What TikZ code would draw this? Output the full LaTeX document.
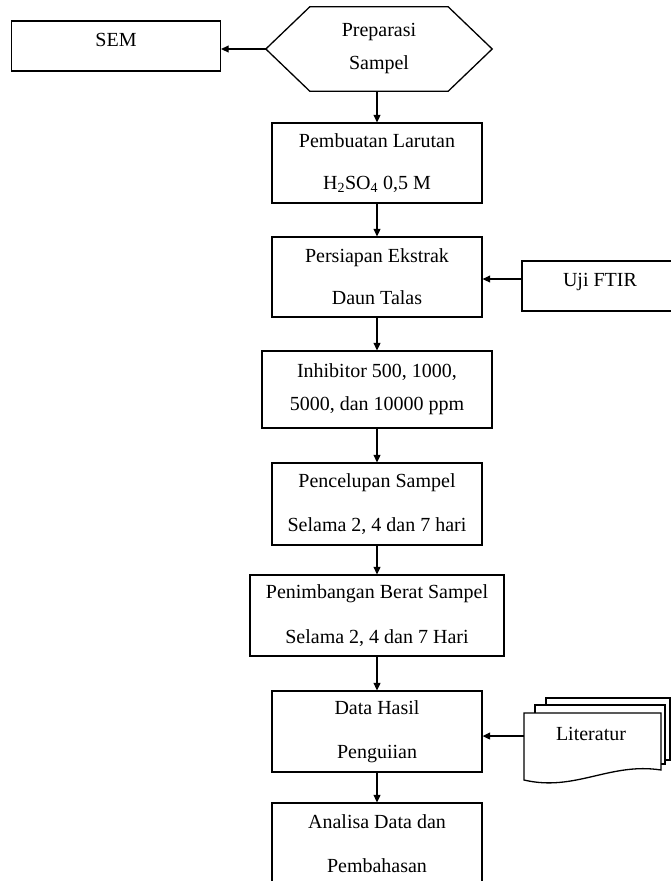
\documentclass[tikz,border=0pt]{standalone}
\usepackage{fontspec}
\setmainfont{Liberation Serif}
\usetikzlibrary{arrows.meta}
\tikzset{
  box/.style={draw, line width=1.3pt, inner sep=0pt, align=center, fill=white},
  arr/.style={-{Triangle[length=7.5pt,width=7pt]}, line width=1.3pt},
  sheet/.style={draw, line width=1.3pt, fill=white},
  f42/.style={font=\fontsize{20}{42}\selectfont},
  f33/.style={font=\fontsize{20}{33}\selectfont},
  f44/.style={font=\fontsize{20}{44.5}\selectfont},
}
\begin{document}
\begin{tikzpicture}[x=1pt,y=-1pt]
\useasboundingbox (0,0) rectangle (671,881);
\clip (0,0) rectangle (671,881);
\fill[white] (0,0) rectangle (671,881);

% hexagon
\node[f33, align=center, minimum width=226pt, minimum height=84pt, inner sep=0pt] (prep) at (379,49) {Preparasi\\Sampel};
\draw[line width=1.3pt] (prep.west) -- ([xshift=44pt]prep.north west) -- ([xshift=-44pt]prep.north east) -- (prep.east) -- ([xshift=-44pt]prep.south east) -- ([xshift=44pt]prep.south west) -- cycle;

\node[box, f42, minimum width=209pt, minimum height=50pt] (sem) at (116,46) {\raisebox{12pt}{SEM}};

\node[box, f42, minimum width=210pt, minimum height=80pt] (b1) at (377,163) {Pembuatan Larutan\\H\textsubscript{2}SO\textsubscript{4} 0,5 M};
\node[box, f42, minimum width=210pt, minimum height=80pt] (b2) at (377,277) {Persiapan Ekstrak\\Daun Talas};
\node[box, f42, minimum width=156pt, minimum height=50pt] (uji) at (600,286) {\raisebox{12pt}{Uji FTIR}};
\node[box, f33, minimum width=230pt, minimum height=77pt] (b3) at (377,389.5) {Inhibitor 500, 1000,\\5000, dan 10000 ppm};
\node[box, f44, minimum width=210pt, minimum height=82pt] (b4) at (377,504) {Pencelupan Sampel\\Selama 2, 4 dan 7 hari};
\node[box, f44, minimum width=254pt, minimum height=81pt] (b5) at (377,615.5) {Penimbangan Berat Sampel\\Selama 2, 4 dan 7 Hari};
\node[box, f44, minimum width=210pt, minimum height=81pt] (b6) at (377,731.5) {Data Hasil\\Penguiian};
\node[box, f44, minimum width=210pt, minimum height=81pt] (b7) at (377,843.5) {Analisa Data dan\\Pembahasan};

% literature document stack
\draw[sheet] (546,698) rectangle (670,760);
\draw[sheet] (535,705) rectangle (665,764);
\draw[sheet] (524,713) -- (661,713) -- (661,770) .. controls (610,762) and (575,792) .. (524,780) -- cycle;
\node[f42, inner sep=0pt] (lit) at (591,734) {Literatur};
\coordinate (litin) at (524,736);

% connectors
\draw[arr] (prep.west) -- (prep.west -| sem.east);
\draw[arr] (b1.north |- prep.south) -- (b1.north);
\draw[arr] (b1.south) -- (b2.north);
\draw[arr] ([yshift=7pt]uji.west) -- ([yshift=7pt]uji.west -| b2.east);
\draw[arr] (b2.south) -- (b3.north);
\draw[arr] (b3.south) -- (b4.north);
\draw[arr] (b4.south) -- (b5.north);
\draw[arr] (b5.south) -- (b6.north);
\draw[arr] (b6.south) -- (b7.north);
\draw[arr] (litin) -- (litin -| b6.east);
\end{tikzpicture}
\end{document}
